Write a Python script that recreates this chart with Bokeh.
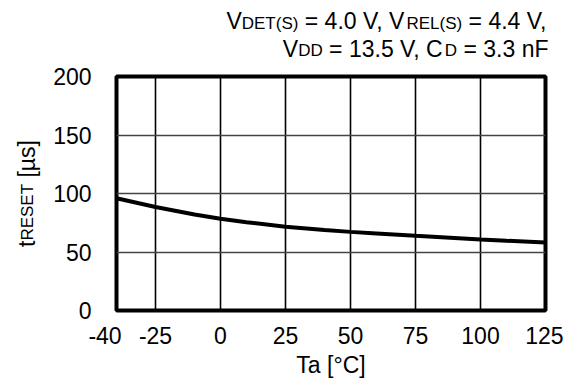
import math
from bokeh.plotting import figure
from bokeh.layouts import column, row
from bokeh.models import FixedTicker, Label, Range1d
from bokeh.embed import file_html
from bokeh.resources import INLINE

# ---- data ----
temp_c = [-40, -25, -10, 0, 10, 25, 40, 50, 60, 75, 90, 100, 110, 125]
t_reset_us = [96.0, 88.5, 82.0, 78.5, 75.5, 71.5, 68.8, 67.2, 65.9, 63.8, 62.0, 60.7, 59.6, 58.2]
x_ticks = [-40, -25, 0, 25, 50, 75, 100, 125]
x_tick_labels = ["-40\u2002\u2002", "-25", "0", "25", "50", "75", "100", "125"]
y_ticks = [0, 50, 100, 150, 200]
x_label = "Ta [°C]"
title_line1 = [("V", False), ("DET(S)", True), (" = 4.0 V, V", False), ("REL(S)", True), (" = 4.4 V,", False)]
title_line2 = [("V", False), ("DD", True), (" = 13.5 V, C", False), ("D", True), (" = 3.3 nF", False)]
y_label = [("t", False), ("RESET", True), (" [µs]", False)]

FONT = "Liberation Sans"
W, H = 563, 380
TH = 60            # height of the title strip
YW = 44            # width of the y-label strip
FL, FT, FR, FB = 116, 76, 545, 310   # frame edges in page pixels
TICK_PX = 23

# ---- main chart ----
p = figure(width=W - YW, height=H - TH, output_backend="svg", toolbar_location=None,
           x_range=Range1d(-40, 125), y_range=Range1d(0, 200),
           min_border_left=FL - YW, min_border_right=W - FR, min_border_top=FT - TH,
           min_border_bottom=H - FB)
p.background_fill_color = "white"
p.border_fill_color = "white"
p.outline_line_color = "black"
p.outline_line_width = 4

p.xaxis.ticker = FixedTicker(ticks=x_ticks)
p.xaxis.major_label_overrides = {t: s for t, s in zip(x_ticks, x_tick_labels)}
p.yaxis.ticker = FixedTicker(ticks=y_ticks)
for ax in (p.xaxis[0], p.yaxis[0]):
    ax.axis_line_color = None
    ax.major_tick_line_color = None
    ax.minor_tick_line_color = None
    ax.major_label_text_font = FONT
    ax.major_label_text_font_size = f"{TICK_PX}px"
    ax.major_label_text_color = "black"
p.xaxis.major_label_standoff = 6
p.yaxis.major_label_standoff = 19
p.xaxis.axis_label = x_label
p.xaxis.axis_label_text_font = FONT
p.xaxis.axis_label_text_font_style = "normal"
p.xaxis.axis_label_text_font_size = "23px"
p.xaxis.axis_label_text_color = "black"
p.xaxis.axis_label_standoff = 0

p.xgrid.grid_line_color = "black"
p.xgrid.grid_line_width = 1.6
p.ygrid.grid_line_color = "#444444"
p.ygrid.grid_line_width = 1.6

p.line(temp_c, t_reset_us, line_color="black", line_width=4)

# ---- rich-text helpers (subscripts) ----
AW = {'V': 667, 'D': 722, 'E': 667, 'T': 611, '(': 333, 'S': 667, ')': 333, ' ': 278,
      '=': 584, '4': 556, '.': 278, '0': 556, ',': 278, 'R': 722, 'L': 556, '1': 556,
      '3': 556, '5': 556, 'C': 722, 'n': 556, 'F': 611, 't': 278, '[': 278, 'µ': 576,
      's': 500, ']': 278}


def tw(s, size):
    return sum(AW.get(c, 556) for c in s) * size / 1000.0


def blank(w, h):
    f = figure(width=w, height=h, output_backend="svg", toolbar_location=None,
               x_axis_location=None, y_axis_location=None, min_border=0,
               x_range=Range1d(0, 1), y_range=Range1d(0, 1))
    f.outline_line_color = None
    f.grid.visible = False
    f.background_fill_color = "white"
    f.border_fill_color = "white"
    return f


def lab(fig, x, y, text, size, **kw):
    fig.add_layout(Label(x=x, y=y, x_units="canvas", y_units="canvas",
                         text=text.replace(" ", "\u00a0"),
                         text_font=FONT, text_font_size=f"{size}px",
                         text_baseline="alphabetic", text_color="black", **kw))


# title strip
tfig = blank(W, TH)
TM, TS = 23, 17


def rich_line(parts, right_px, base_py, sub_drop):
    total = sum(tw(t, TS if s else TM) for t, s in parts)
    x = right_px - total
    for t, s in parts:
        size = TS if s else TM
        lab(tfig, x, base_py + (sub_drop if s else 0), t, size, text_align="left")
        x += tw(t, size)


rich_line(title_line1, 548, 20.5, 2)
rich_line(title_line2, 548, 48, 2)

# y-label strip (rotated text, centred on the frame)
yfig = blank(YW, H - TH)
YM, YS = 23, 17
total_y = sum(tw(t, YS if s else YM) for t, s in y_label)
yy = ((FT - TH) + (FB - TH) + total_y) / 2.0
for t, s in y_label:
    size = YS if s else YM
    lab(yfig, 26 + (1 if s else 0), yy, t, size, text_align="left", angle=math.pi / 2)
    yy -= tw(t, size)

layout = column(tfig, row(yfig, p, spacing=0), spacing=0)
open("out.html", "w").write(file_html(layout, INLINE))
